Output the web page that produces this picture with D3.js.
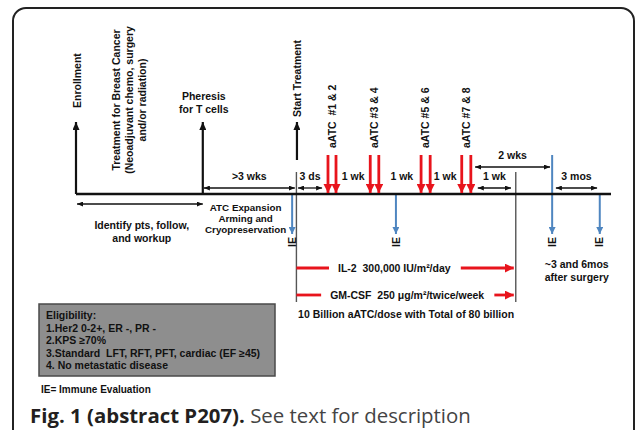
<!DOCTYPE html>
<html><head><meta charset="utf-8">
<script src="https://cdn.jsdelivr.net/npm/d3@7"></script>
<style>
body{margin:0;background:#fff}
svg text{font-family:"Liberation Sans",Arial,sans-serif;font-weight:bold;fill:#111;white-space:pre}
</style>
</head><body><svg id="c" width="635" height="430"></svg>
<script>
// ---------- data (timeline units 0..100) ----------
const upEventLabels = ["Enrollment", "Pheresis|for T cells", "Start Treatment"];
const upEventT = [0, 23.7, 41.3];
const treatmentLines = ["Treatment for Breast Cancer", "(Neoadjuvant chemo, surgery", "and/or radiation)"];
const treatmentT = 9.9;
const doseLabels = ["aATC  #1 & 2", "aATC #3 & 4", "aATC #5 & 6", "aATC #7 & 8"];
const doseT = [[47.1, 48.6], [55.0, 56.6], [64.5, 66.2], [72.1, 73.8]];
const ieT = [40.4, 59.8, 89.0, 97.9];
const ieFromUpper = [false, false, true, false];
const intervalLabels = [">3 wks", "3 ds", "1 wk", "2 wks", "3 mos", ""];
const intervalFrom = [23.9, 41.5, 75.1, 74.6, 89.7, 0.2];
const intervalTo = [40.9, 46.0, 81.3, 88.6, 97.4, 23.7];
const intervalTier = ["axis", "axis", "axis", "upper", "axis", "below"];
const gapLabels = ["1 wk", "1 wk", "1 wk"];
const gapT = [51.8, 60.9, 69.0];
const markerLinesT = [41.2, 82.2];
const therapyLabels = ["IL-2  300,000 IU/m²/day", "GM-CSF  250 μg/m²/twice/week"];
const therapyFrom = [41.2, 41.2];
const therapyTo = [82.2, 82.2];
const therapyTextT = [59.5, 61.9];
const doseNote = "10 Billion aATC/dose with Total of 80 billion";
const identifyLines = ["Identify pts, follow,", "and workup"];
const identifyT = 12.3;
const expansionLines = ["ATC Expansion", "Arming and", "Cryopreservation"];
const expansionT = 31.7;
const followLines = ["~3 and 6mos", "after surgery"];
const followT = 93.6;
const eligibility = ["Eligibility:", "1.Her2 0-2+, ER -, PR -", "2.KPS ≥70%", "3.Standard  LFT, RFT, PFT, cardiac (EF ≥45)", "4. No metastatic disease"];
const ieNote = "IE= Immune Evaluation";
const captionBold = "Fig. 1 (abstract P207).";
const captionText = " See text for description";

// ---------- layout ----------
const RED = "#e8141c", BLUE = "#4f86c0", GREY = "#555";
const x = d3.scaleLinear().domain([0, 100]).range([76, 611]);
const Y = {axis: 194, upTop: 122, startBottom: 160, doseTop: 155, ieEnd: 234, ieUpperTop: 155,
  tierAxis: 188, tierUpper: 167, tierBelow: 204, vlineTop: 172, vlineBottom: 302};
const tierY = {axis: Y.tierAxis, upper: Y.tierUpper, below: Y.tierBelow};

const svg = d3.select("#c");
const defs = svg.append("defs");
function marker(id, color, w, h) {
  defs.append("marker").attr("id", id).attr("markerUnits", "userSpaceOnUse")
    .attr("viewBox", `0 ${-h/2} ${w} ${h}`).attr("refX", w).attr("refY", 0)
    .attr("markerWidth", w).attr("markerHeight", h).attr("orient", "auto-start-reverse")
    .append("path").attr("d", `M0,${-h/2}L${w},0L0,${h/2}Z`).attr("fill", color);
}
marker("ablack", "#111", 8, 7);
marker("asmall", "#111", 6, 5);
marker("ared", RED, 9, 9);
marker("ablue", BLUE, 7, 7);

// outer frame
svg.append("rect").attr("x", 13).attr("y", 8).attr("width", 621).attr("height", 440)
  .attr("rx", 13).attr("fill", "none").attr("stroke", "#222").attr("stroke-width", 2);

// vertical grey reference lines
svg.selectAll(".vl").data(markerLinesT).join("line")
  .attr("x1", d => x(d)).attr("x2", d => x(d)).attr("y1", Y.vlineTop).attr("y2", Y.vlineBottom)
  .attr("stroke", GREY).attr("stroke-width", 1.4);

// IE arrows
svg.selectAll(".ie").data(ieT).join("line")
  .attr("x1", d => x(d)).attr("x2", d => x(d))
  .attr("y1", (d, i) => ieFromUpper[i] ? Y.ieUpperTop : Y.axis).attr("y2", Y.ieEnd)
  .attr("stroke", BLUE).attr("stroke-width", 2).attr("marker-end", "url(#ablue)");
svg.selectAll(".iet").data(ieT).join("text")
  .attr("transform", d => `translate(${x(d) + 3.6},242) rotate(-90)`)
  .attr("text-anchor", "middle").style("font-size", "10.5px").text("IE");

// main axis
svg.append("line").attr("x1", x(0)).attr("x2", x(100)).attr("y1", Y.axis).attr("y2", Y.axis)
  .attr("stroke", "#111").attr("stroke-width", 2.6);

// up event arrows
svg.selectAll(".up").data(upEventT).join("line")
  .attr("x1", d => x(d)).attr("x2", d => x(d))
  .attr("y1", (d, i) => i === 2 ? Y.startBottom : Y.axis).attr("y2", Y.upTop)
  .attr("stroke", "#111").attr("stroke-width", 2.2).attr("marker-end", "url(#ablack)");
// labels
svg.append("text").attr("transform", `translate(${x(upEventT[0]) + 4.7},108) rotate(-90)`)
  .style("font-size", "10.5px").text(upEventLabels[0]);
upEventLabels[1].split("|").forEach((s, i) => {
  svg.append("text").attr("x", x(upEventT[1]) + 1).attr("y", 100 + i * 12.5)
    .attr("text-anchor", "middle").style("font-size", "10.5px").text(s);
});
svg.append("text").attr("transform", `translate(${x(upEventT[2]) + 3.8},117) rotate(-90)`)
  .style("font-size", "10.5px").text(upEventLabels[2]);
treatmentLines.forEach((s, i) => {
  svg.append("text").attr("transform", `translate(${x(treatmentT) - 9.3 + i * 13},100) rotate(-90)`)
    .attr("text-anchor", "middle").style("font-size", "10.5px").text(s);
});

// dose arrows
const doseFlat = doseT.flat();
svg.selectAll(".dose").data(doseFlat).join("line")
  .attr("x1", d => x(d)).attr("x2", d => x(d)).attr("y1", Y.doseTop).attr("y2", Y.axis - 1)
  .attr("stroke", RED).attr("stroke-width", 2.8).attr("marker-end", "url(#ared)");
svg.selectAll(".dl").data(doseLabels).join("text")
  .attr("transform", (d, i) => `translate(${x((doseT[i][0] + doseT[i][1]) / 2) + 3.8},148) rotate(-90)`)
  .style("font-size", "10.5px").text(d => d);

// interval double arrows
intervalLabels.forEach((lab, i) => {
  const y = tierY[intervalTier[i]];
  svg.append("line").attr("x1", x(intervalFrom[i])).attr("x2", x(intervalTo[i])).attr("y1", y).attr("y2", y)
    .attr("stroke", "#111").attr("stroke-width", 1.3)
    .attr("marker-start", "url(#asmall)").attr("marker-end", "url(#asmall)");
  if (lab) svg.append("text").attr("x", (x(intervalFrom[i]) + x(intervalTo[i])) / 2).attr("y", y - 8.5)
    .attr("text-anchor", "middle").style("font-size", "10.5px").text(lab);
});
svg.selectAll(".gap").data(gapT).join("text")
  .attr("x", d => x(d)).attr("y", 180).attr("text-anchor", "middle").style("font-size", "10.5px")
  .text((d, i) => gapLabels[i]);

// below-axis text blocks
identifyLines.forEach((s, i) => svg.append("text").attr("x", x(identifyT)).attr("y", 229 + i * 12.5)
  .attr("text-anchor", "middle").style("font-size", "10.5px").text(s));
expansionLines.forEach((s, i) => svg.append("text").attr("x", x(expansionT)).attr("y", 210.5 + i * 11.2)
  .attr("text-anchor", "middle").style("font-size", "9.8px").text(s));
followLines.forEach((s, i) => svg.append("text").attr("x", x(followT)).attr("y", 268 + i * 13.3)
  .attr("text-anchor", "middle").style("font-size", "10.5px").text(s));

// therapy lines
const therapyY = [268, 295];
therapyLabels.forEach((lab, i) => {
  const y = therapyY[i];
  const t = svg.append("text").attr("x", x(therapyTextT[i])).attr("y", y + 3.8)
    .attr("text-anchor", "middle").style("font-size", "10.5px").text(lab);
  const bb = t.node().getBBox();
  svg.append("line").attr("x1", x(therapyFrom[i])).attr("x2", bb.x - 9).attr("y1", y).attr("y2", y)
    .attr("stroke", RED).attr("stroke-width", 2.8);
  svg.append("line").attr("x1", bb.x + bb.width + 10).attr("x2", x(therapyTo[i]) - 2).attr("y1", y).attr("y2", y)
    .attr("stroke", RED).attr("stroke-width", 2.8).attr("marker-end", "url(#ared)");
});
svg.append("text").attr("x", (x(therapyFrom[0]) + x(therapyTo[0])) / 2).attr("y", 317.5)
  .attr("text-anchor", "middle").style("font-size", "10.5px").text(doseNote);

// eligibility box
svg.append("rect").attr("x", 39).attr("y", 304).attr("width", 236).attr("height", 72)
  .attr("fill", "#8e8e8e").attr("stroke", "#4a4a4a").attr("stroke-width", 1.5);
svg.selectAll(".el").data(eligibility).join("text")
  .attr("x", 46).attr("y", (d, i) => 319 + i * 12.6).style("font-size", "10.5px").text(d => d);
svg.append("text").attr("x", 41).attr("y", 393).style("font-size", "10px").text(ieNote);

// caption
const cap = svg.append("text").attr("x", 30).attr("y", 423)
  .style("font-family", "'Open Sans','Noto Sans',sans-serif").style("font-size", "20.4px");
cap.append("tspan").style("font-weight", "bold").style("fill", "#231f20").text(captionBold);
cap.append("tspan").style("font-weight", "normal").style("fill", "#444").text(captionText);
</script></body></html>
